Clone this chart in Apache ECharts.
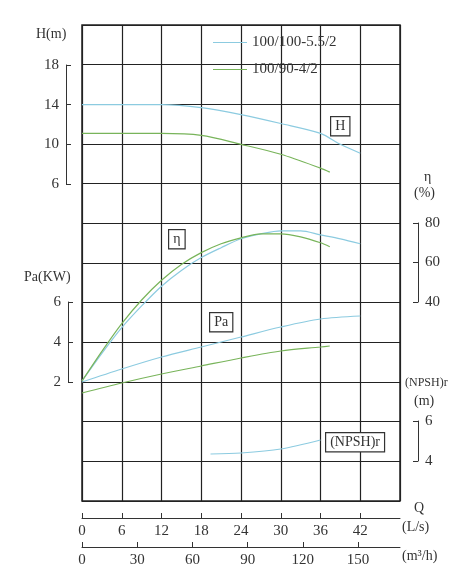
<!DOCTYPE html>
<html>
<head>
<meta charset="utf-8">
<script src="https://cdn.jsdelivr.net/npm/echarts@6/dist/echarts.min.js"></script>
<style>html,body{margin:0;background:#fff}#root{width:471px;height:580px}</style>
</head>
<body>
<div id="root"></div>
<script>
// Q in L/s for each curve
var seriesNames = ["100/100-5.5/2", "100/90-4/2"];
var hBlueQ = [0, 6, 12, 18, 24, 30, 36, 39, 42];
var hBlue = [14, 14, 14, 13.7, 13, 12.1, 11.1, 10, 9.1];
var hGreenQ = [0, 6, 12, 18, 24, 30, 36, 37.4];
var hGreen = [11.1, 11.1, 11.1, 10.9, 10, 9, 7.6, 7.2];
var effBlueQ = [0, 3, 6, 9, 12, 15, 18, 21, 24, 27, 30, 33, 36, 39, 42];
var effBlue = [0, 14, 27, 38, 48, 56, 62.5, 67.5, 72, 74.5, 76, 76, 74, 72, 69.5];
var effGreenQ = [0, 3, 6, 9, 12, 15, 18, 21, 24, 27, 30, 33, 36, 37.4];
var effGreen = [0, 15, 29, 41, 51, 59, 65, 69.5, 72.5, 74.5, 74.5, 73, 70, 68];
var paBlueQ = [0, 6, 12, 18, 24, 30, 36, 42];
var paBlue = [2, 2.65, 3.25, 3.75, 4.25, 4.75, 5.15, 5.3];
var paGreenQ = [0, 6, 12, 18, 24, 30, 36, 37.4];
var paGreen = [1.45, 1.95, 2.4, 2.8, 3.2, 3.55, 3.75, 3.8];
var npshBlueQ = [19.4, 24, 30, 36];
var npshBlue = [4.35, 4.4, 4.6, 5.05];
var qLsTicks = [0, 6, 12, 18, 24, 30, 36, 42];
var qM3hTicks = [0, 30, 60, 90, 120, 150];

var blue = "#8ccbe0", green = "#78b45a";
var font = "Liberation Serif";
var pair = (xs, ys) => xs.map((x, i) => [x, ys[i]]);

var chart = echarts.init(document.getElementById("root"), null, { renderer: "canvas" });

var lbl = { fontFamily: font, fontSize: 15, color: "#333" };
var hiddenX = (g) => ({ type: "value", gridIndex: g, min: 0, max: 48, show: false });
var sideY = (g, min, max, step, pos) => ({
  type: "value", gridIndex: g, min: min, max: max, interval: step, position: pos, offset: 16,
  axisLine: { show: true, onZero: false, lineStyle: { color: "#333", width: 1 } },
  axisTick: { show: true, inside: true, length: 5, lineStyle: { color: "#333" } },
  axisLabel: Object.assign({ margin: 7 }, lbl),
  splitLine: { show: false }
});
var curve = (name, data, color, xi, yi) => ({
  name: name, type: "line", smooth: 0.3, symbol: "none", clip: false,
  xAxisIndex: xi, yAxisIndex: yi, data: data,
  lineStyle: { color: color, width: 1.2 }, itemStyle: { color: color }
});
var box = (text, x, y) => ({
  type: "text", left: x, top: y, z: 10,
  style: { text: text, fontFamily: font, fontSize: 14, fill: "#333", padding: [2, 4],
           borderColor: "#333", borderWidth: 1.2, backgroundColor: "#fff" }
});
var txt = (text, x, y, size) => ({
  type: "text", left: x, top: y,
  style: { text: text, fontFamily: font, fontSize: size || 14, fill: "#333" }
});

var grids = [
  { left: 82, width: 318, top: 25, height: 476, show: true, borderColor: "#222", borderWidth: 1.5 },
  { left: 82, width: 318, top: 65, height: 119 },
  { left: 82, width: 318, top: 223, height: 79 },
  { left: 82, width: 318, top: 302, height: 80 },
  { left: 82, width: 318, top: 421, height: 40 }
];

var option = {
  backgroundColor: "#fff",
  animation: false,
  grid: grids,
  legend: {
    left: 208, top: 30, orient: "vertical", itemWidth: 34, itemHeight: 1, itemGap: 12,
    icon: "rect",
    textStyle: { fontFamily: font, fontSize: 15, color: "#333" },
    data: seriesNames
  },
  xAxis: [
    { type: "value", gridIndex: 0, min: 0, max: 48, interval: 6,
      axisLine: { show: false }, axisTick: { show: false }, axisLabel: { show: false },
      splitLine: { show: true, lineStyle: { color: "#222", width: 1.2 } } },
    { type: "value", gridIndex: 0, min: 0, max: 48, interval: 6, position: "bottom", offset: 17,
      axisLine: { show: true, onZero: false, lineStyle: { color: "#333", width: 1 } },
      axisTick: { show: true, inside: true, length: 5, customValues: qLsTicks, lineStyle: { color: "#333" } },
      axisLabel: Object.assign({ margin: 6, customValues: qLsTicks }, lbl),
      splitLine: { show: false } },
    { type: "value", gridIndex: 0, min: 0, max: 172.8, interval: 30, position: "bottom", offset: 46,
      axisLine: { show: true, onZero: false, lineStyle: { color: "#333", width: 1 } },
      axisTick: { show: true, inside: true, length: 5, customValues: qM3hTicks, lineStyle: { color: "#333" } },
      axisLabel: Object.assign({ margin: 6, customValues: qM3hTicks }, lbl),
      splitLine: { show: false } },
    hiddenX(1), hiddenX(2), hiddenX(3), hiddenX(4)
  ],
  yAxis: [
    { type: "value", gridIndex: 0, min: 0, max: 12, interval: 1,
      axisLine: { show: false }, axisTick: { show: false }, axisLabel: { show: false },
      splitLine: { show: true, lineStyle: { color: "#222", width: 1.2 } } },
    sideY(1, 6, 18, 4, "left"),
    Object.assign(sideY(2, 40, 80, 20, "right"), { offset: 18 }),
    Object.assign(sideY(3, 2, 6, 2, "left"), { offset: 14 }),
    Object.assign(sideY(4, 4, 6, 2, "right"), { offset: 18 })
  ],
  series: [
    curve(seriesNames[0], pair(hBlueQ, hBlue), blue, 3, 1),
    curve(seriesNames[1], pair(hGreenQ, hGreen), green, 3, 1),
    curve(seriesNames[0], pair(effBlueQ, effBlue), blue, 4, 2),
    curve(seriesNames[1], pair(effGreenQ, effGreen), green, 4, 2),
    curve(seriesNames[0], pair(paBlueQ, paBlue), blue, 5, 3),
    curve(seriesNames[1], pair(paGreenQ, paGreen), green, 5, 3),
    curve(seriesNames[0], pair(npshBlueQ, npshBlue), blue, 6, 4)
  ],
  graphic: [
    txt("H(m)", 36, 27),
    txt("Pa(KW)", 24, 270),
    txt("η", 424, 170),
    txt("(%)", 414, 186),
    txt("(NPSH)r", 405, 377, 12),
    txt("(m)", 414, 394),
    txt("Q", 414, 501),
    txt("(L/s)", 402, 520),
    txt("(m³/h)", 402, 549),
    box("H", 330, 116),
    box("η", 168, 229),
    box("Pa", 209, 312),
    box("(NPSH)r", 325, 432)
  ]
};

chart.setOption(option);
</script>
</body>
</html>
